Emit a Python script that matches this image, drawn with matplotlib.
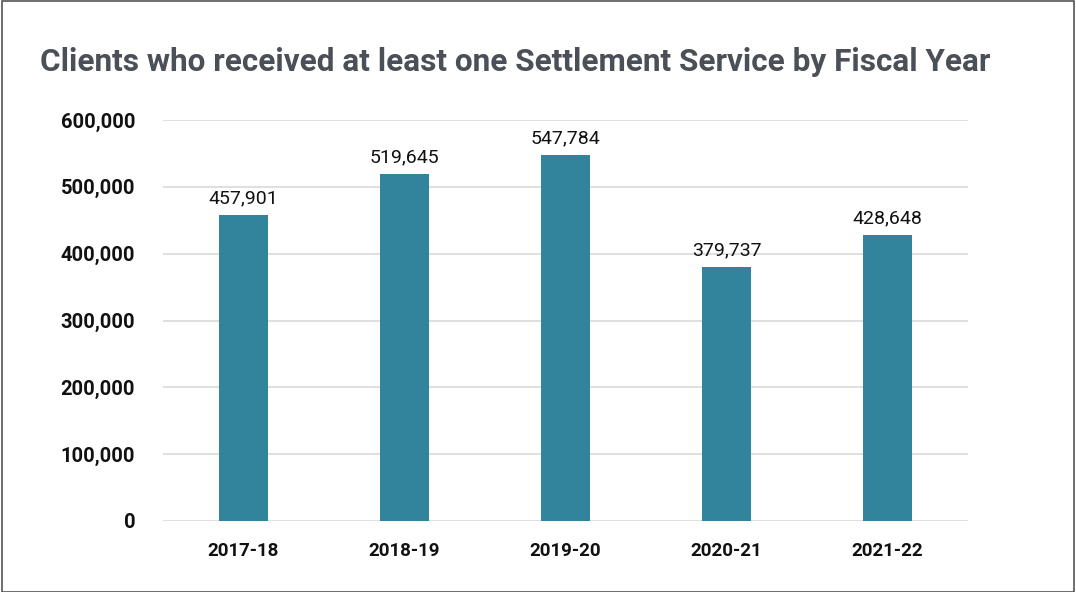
import matplotlib.pyplot as plt
from matplotlib.patches import Rectangle
from matplotlib import font_manager

# Data
years = ['2017-18', '2018-19', '2019-20', '2020-21', '2021-22']
clients = [457901, 519645, 547784, 379737, 428648]
yticks = [0, 100000, 200000, 300000, 400000, 500000, 600000]

names = {f.name for f in font_manager.fontManager.ttflist}
cond = 'Liberation Sans Narrow' if 'Liberation Sans Narrow' in names else 'Roboto'
plt.rcParams['font.family'] = [cond, 'DejaVu Sans']

fig = plt.figure(figsize=(10.76, 5.92), dpi=100)
ax = fig.add_axes([163/1076, 1-521/592, 805/1076, 401/592])

x = range(len(years))
ax.bar(x, clients, width=0.31, color='#31849b', zorder=3)
for i, v in enumerate(clients):
    ax.text(i, v + 11000, f'{v:,}', ha='center', va='bottom', fontsize=14,
            color='#111111')

ax.set_xlim(-0.5, len(years) - 0.5)
ax.set_ylim(0, 600000)
ax.set_yticks(yticks)
ax.set_yticklabels([f'{t:,}' for t in yticks], fontsize=14.5, fontweight='bold',
                   color='#111111')
ax.set_xticks(list(x))
ax.set_xticklabels(years, fontsize=13.5, fontweight='bold', color='#111111')
ax.tick_params(axis='both', length=0)
ax.tick_params(axis='y', pad=20)
ax.tick_params(axis='x', pad=15)
ax.grid(axis='y', color='#d9d9d9', lw=1.2, zorder=0)
for s in ax.spines.values():
    s.set_visible(False)

fig.text(40/1076, 1-62/592, 'Clients who received at least one Settlement Service by Fiscal Year',
         fontsize=22.7, fontweight='bold', color='#4b5058', va='center', ha='left')

fig.patches.append(Rectangle((0.002, 0.0), 0.996, 0.998, transform=fig.transFigure,
                             fill=False, edgecolor='#555555', lw=1.2))

fig.savefig('out.png', dpi=100)
